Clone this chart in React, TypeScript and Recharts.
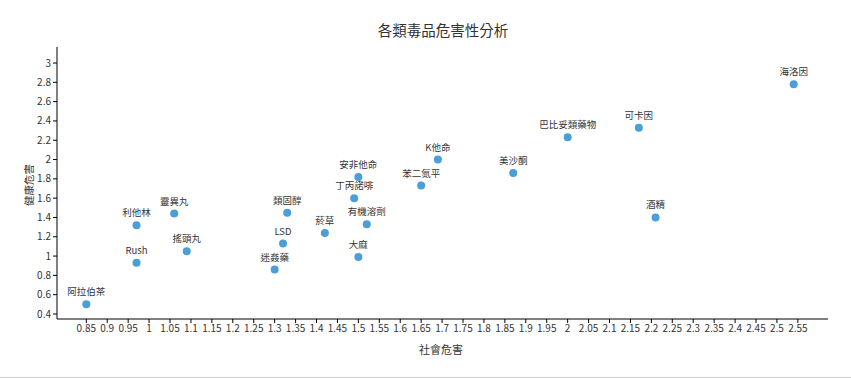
import React from "react";
import { ScatterChart, Scatter, XAxis, YAxis } from "recharts";

const drugNames = [
  "海洛因", "可卡因", "巴比妥類藥物", "美沙酮", "酒精", "K他命", "苯二氮平", "安非他命",
  "菸草", "丁丙諾啡", "大麻", "有機溶劑", "靈異丸", "LSD", "利他林", "類固醇",
  "迷姦藥", "搖頭丸", "Rush", "阿拉伯茶",
];
const socialHarm = [
  2.54, 2.17, 2.0, 1.87, 2.21, 1.69, 1.65, 1.5,
  1.42, 1.49, 1.5, 1.52, 1.06, 1.32, 0.97, 1.33,
  1.3, 1.09, 0.97, 0.85,
];
const healthHarm = [
  2.78, 2.33, 2.23, 1.86, 1.4, 2.0, 1.73, 1.82,
  1.24, 1.6, 0.99, 1.33, 1.44, 1.13, 1.32, 1.45,
  0.86, 1.05, 0.93, 0.5,
];
const xTicks = [
  0.85, 0.9, 0.95, 1, 1.05, 1.1, 1.15, 1.2, 1.25, 1.3, 1.35, 1.4, 1.45, 1.5, 1.55, 1.6, 1.65,
  1.7, 1.75, 1.8, 1.85, 1.9, 1.95, 2, 2.05, 2.1, 2.15, 2.2, 2.25, 2.3, 2.35, 2.4, 2.45, 2.5, 2.55,
];
const yTicks = [0.4, 0.6, 0.8, 1, 1.2, 1.4, 1.6, 1.8, 2, 2.2, 2.4, 2.6, 2.8, 3];

const data = drugNames.map((name, i) => ({ name, x: socialHarm[i], y: healthHarm[i] }));

const FONT = '"Noto Sans CJK TC", "Noto Sans", sans-serif';

const Dot = (props: any) => {
  const { cx, cy, payload } = props;
  return (
    <g>
      <circle cx={cx} cy={cy} r={4} fill="#4a9fd9" />
      <text
        x={cx}
        y={cy - 9}
        textAnchor="middle"
        fontSize={9.5}
        fill="#333"
        fontFamily={FONT}
      >
        {payload.name}
      </text>
    </g>
  );
};

export default function App() {
  return (
    <div
      style={{
        position: "absolute",
        left: 0,
        top: 0,
        width: 851,
        height: 377,
        borderBottom: "1px solid #cfcfcf",
        background: "#fff",
        fontFamily: FONT,
      }}
    >
      <ScatterChart
        width={851}
        height={377}
        margin={{ top: 47, right: 23, bottom: 0, left: 0 }}
      >
        <text
          x={443}
          y={29}
          textAnchor="middle"
          dominantBaseline="central"
          fontSize={14.5}
          fill="#333"
          fontFamily={FONT}
        >
          各類毒品危害性分析
        </text>
        <text
          x={441}
          y={349}
          textAnchor="middle"
          dominantBaseline="central"
          fontSize={11}
          fill="#333"
          fontFamily={FONT}
        >
          社會危害
        </text>
        <text
          x={28}
          y={185}
          textAnchor="middle"
          dominantBaseline="central"
          fontSize={10.5}
          fill="#333"
          fontFamily={FONT}
          transform="rotate(-90 28 185)"
        >
          健康危害
        </text>
        <XAxis
          type="number"
          dataKey="x"
          domain={[0.78, 2.622]}
          allowDataOverflow
          ticks={xTicks}
          interval={0}
          height={58}
          tickSize={4}
          tickMargin={2}
          stroke="#000"
          tick={{ fontSize: 10, fill: "#333", fontFamily: FONT }}
        />
        <YAxis
          type="number"
          dataKey="y"
          domain={[0.348, 3.166]}
          allowDataOverflow
          ticks={yTicks}
          interval={0}
          width={57}
          tickSize={4}
          tickMargin={2}
          stroke="#000"
          tick={{ fontSize: 10, fill: "#333", fontFamily: FONT }}
        />
        <Scatter data={data} shape={<Dot />} isAnimationActive={false} />
      </ScatterChart>
    </div>
  );
}
